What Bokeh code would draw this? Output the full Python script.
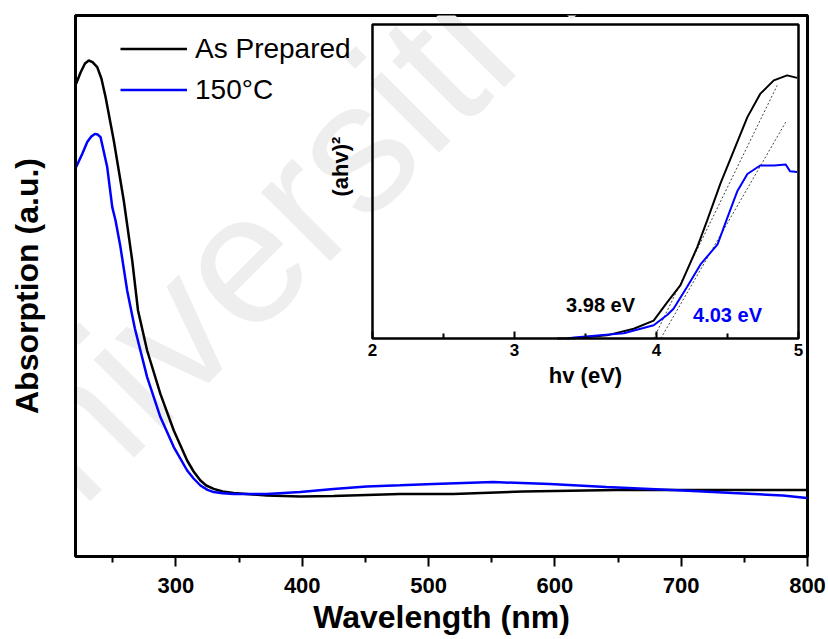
from bokeh.plotting import figure
from bokeh.models import (Range1d, LinearAxis, FixedTicker, Legend, LegendItem,
                          Label, BoxAnnotation)
from bokeh.embed import file_html
from bokeh.resources import INLINE

# ---------------- data ----------------
# main UV-Vis spectra
wl_asprep = [221, 224.5, 228, 231, 234, 237.7, 241, 244.3, 250.8, 258.7, 265.4, 270,
             277.2, 287.7, 298.3, 308.9, 314, 319.4, 324, 329.9, 337, 345.7, 372, 398.4,
             424.7, 477.5, 519.6, 574.9, 648.7, 701.4, 799.5]
abs_asprep = [2.364, 2.42, 2.465, 2.48, 2.472, 2.447, 2.39, 2.297, 2.08, 1.78, 1.48, 1.23,
              1.03, 0.813, 0.63, 0.48, 0.425, 0.38, 0.355, 0.338, 0.325, 0.318, 0.305,
              0.300, 0.302, 0.312, 0.313, 0.325, 0.333, 0.333, 0.333]

wl_150 = [221, 225.8, 229.8, 233, 235.8, 238, 240.3, 245.6, 249.6, 252.2, 256.1, 261.4,
          267.5, 277.2, 287.7, 298.3, 308.9, 314, 319.4, 325, 329.9, 337, 345.7, 372,
          398.4, 424.7, 451, 477.5, 503.8, 551.2, 596, 640.8, 701.4, 740.9, 780.5, 799.5]
abs_150 = [1.947, 2.013, 2.072, 2.10, 2.113, 2.11, 2.097, 1.947, 1.747, 1.68, 1.547, 1.33,
           1.14, 0.897, 0.697, 0.547, 0.43, 0.39, 0.355, 0.333, 0.322, 0.316, 0.313, 0.313,
           0.323, 0.338, 0.350, 0.356, 0.363, 0.372, 0.363, 0.347, 0.330, 0.317, 0.305,
           0.293]

# inset Tauc plot
hv_asprep = [3.30, 3.42, 3.65, 3.84, 3.98, 4.075, 4.169, 4.287, 4.357, 4.45, 4.545,
             4.64, 4.73, 4.826, 4.92, 4.99]
tauc_asprep = [0.0, 0.001, 0.010, 0.031, 0.057, 0.115, 0.170, 0.291, 0.376, 0.493, 0.599,
               0.705, 0.779, 0.822, 0.838, 0.830]

hv_150 = [3.37, 3.42, 3.77, 3.98, 4.075, 4.12, 4.216, 4.31, 4.43, 4.50, 4.57, 4.64, 4.73,
          4.83, 4.91, 4.94, 4.99]
tauc_150 = [0.0, 0.003, 0.017, 0.042, 0.075, 0.095, 0.165, 0.236, 0.300, 0.386, 0.470,
            0.524, 0.551, 0.551, 0.554, 0.533, 0.530]

fit_asprep_x = [3.98, 4.85]
fit_asprep_y = [0.0, 0.806]
fit_150_x = [4.03, 4.91]
fit_150_y = [0.0, 0.689]

main_ticks = [300, 400, 500, 600, 700, 800]
main_minor = [250, 350, 450, 550, 650, 750]
inset_ticks = [2, 3, 4, 5]
inset_minor = [2.5, 3.5, 4.5]
inset_xlim = (2, 5)
inset_ylim = (0, 1)

x_title = "Wavelength (nm)"
y_title = "Absorption (a.u.)"
series_labels = ["As Prepared", "150°C"]
gap_labels = ["3.98 eV", "4.03 eV"]

FONT = "Liberation Sans"
BLUE = "#0000ff"

# ---------------- figure ----------------
p = figure(width=828, height=639, x_range=Range1d(220.5, 800), y_range=Range1d(0, 2.705),
           output_backend="svg", toolbar_location=None, title=None,
           min_border_left=75, min_border_right=21, min_border_top=15, min_border_bottom=83)
p.extra_x_ranges = {"ix": Range1d(-0.0915, 5.0634)}
p.extra_y_ranges = {"iy": Range1d(-0.6943, 1.0287)}
p.grid.visible = False
p.outline_line_color = "black"
p.outline_line_width = 3
p.outline_line_alpha = 1.0
p.background_fill_color = "white"
p.border_fill_color = "white"

# watermark
p.add_layout(Label(x=-134, y=-3, x_units="screen", y_units="screen",
                   text="Universiti Malaya", angle=45, angle_units="deg",
                   text_font=FONT, text_font_size="185px", text_color="#eeeeee",
                   text_baseline="alphabetic", level="underlay"))

xa = p.xaxis[0]
xa.ticker = FixedTicker(ticks=main_ticks, minor_ticks=main_minor)
xa.bounds = (235, 800)
xa.axis_line_width = 3
xa.major_tick_line_width = 2
xa.minor_tick_line_width = 2
xa.major_tick_out = 10
xa.major_tick_in = 0
xa.minor_tick_out = 6
xa.minor_tick_in = 0
xa.major_label_standoff = 11
xa.major_label_text_font = FONT
xa.major_label_text_font_style = "bold"
xa.major_label_text_font_size = "22px"
xa.major_label_text_color = "black"
xa.axis_label = x_title
xa.axis_label_text_font = FONT
xa.axis_label_text_font_style = "bold"
xa.axis_label_text_font_size = "32px"
xa.axis_label_text_color = "black"
xa.axis_label_standoff = 3

ya = p.yaxis[0]
ya.ticker = FixedTicker(ticks=[])
ya.bounds = (0.055, 2.705)
ya.axis_line_width = 3
ya.major_tick_out = 0
ya.minor_tick_out = 0
ya.major_label_standoff = 0
ya.major_label_text_font_size = "0px"
ya.axis_label = y_title
ya.axis_label_text_font = FONT
ya.axis_label_text_font_style = "bold"
ya.axis_label_text_font_size = "32px"
ya.axis_label_text_color = "black"
ya.axis_label_standoff = 31

# main spectra
r1 = p.line(wl_asprep, abs_asprep, line_color="black", line_width=2.5)
r2 = p.line(wl_150, abs_150, line_color=BLUE, line_width=2.5)

legend = Legend(items=[LegendItem(label=series_labels[0], renderers=[r1]),
                       LegendItem(label=series_labels[1], renderers=[r2])],
                location=(45, 446), glyph_width=67, glyph_height=41, label_height=41,
                spacing=0, padding=0, margin=0, label_standoff=8,
                border_line_color=None, background_fill_alpha=0,
                label_text_font=FONT, label_text_font_size="28px",
                label_text_color="black")
p.add_layout(legend, "center")

# ---------------- inset ----------------
p.add_layout(BoxAnnotation(left=inset_xlim[0], right=inset_xlim[1],
                           bottom=inset_ylim[0], top=inset_ylim[1],
                           x_range_name="ix", y_range_name="iy",
                           fill_alpha=0, line_color="black", line_width=2.5,
                           line_alpha=1.0))

ix_axis = LinearAxis(x_range_name="ix", y_range_name="iy", fixed_location=inset_ylim[0],
                     bounds=inset_xlim,
                     ticker=FixedTicker(ticks=inset_ticks, minor_ticks=inset_minor),
                     axis_line_color=None,
                     major_tick_in=7, major_tick_out=0, minor_tick_in=5, minor_tick_out=0,
                     major_tick_line_width=2, minor_tick_line_width=2,
                     major_label_standoff=6, major_label_text_font=FONT,
                     major_label_text_font_style="bold", major_label_text_font_size="17px",
                     major_label_text_color="black",
                     axis_label="hv (eV)", axis_label_text_font=FONT,
                     axis_label_text_font_style="bold", axis_label_text_font_size="22px",
                     axis_label_text_color="black", axis_label_standoff=3)
p.add_layout(ix_axis, "below")

iy_axis = LinearAxis(x_range_name="ix", y_range_name="iy", fixed_location=inset_xlim[0],
                     bounds=(0.096, 1.0), ticker=FixedTicker(ticks=[]),
                     axis_line_color=None, major_tick_out=0, minor_tick_out=0,
                     major_label_standoff=0, major_label_text_font_size="0px",
                     axis_label="(ahv)²", axis_label_text_font=FONT,
                     axis_label_text_font_style="bold", axis_label_text_font_size="22px",
                     axis_label_text_color="black", axis_label_standoff=20)
p.add_layout(iy_axis, "left")

p.line(fit_asprep_x, fit_asprep_y, x_range_name="ix", y_range_name="iy",
       line_color="#444444", line_width=1, line_dash="2 2")
p.line(fit_150_x, fit_150_y, x_range_name="ix", y_range_name="iy",
       line_color="#444444", line_width=1, line_dash="2 2")
p.line(hv_asprep, tauc_asprep, x_range_name="ix", y_range_name="iy",
       line_color="black", line_width=2)
p.line(hv_150, tauc_150, x_range_name="ix", y_range_name="iy",
       line_color=BLUE, line_width=2)

p.add_layout(Label(x=3.606, y=0.108, x_range_name="ix", y_range_name="iy",
                   text=gap_labels[0], text_align="center", text_baseline="middle",
                   text_font=FONT, text_font_style="bold", text_font_size="20px",
                   text_color="black"))
p.add_layout(Label(x=4.5, y=0.075, x_range_name="ix", y_range_name="iy",
                   text=gap_labels[1], text_align="center", text_baseline="middle",
                   text_font=FONT, text_font_style="bold", text_font_size="20px",
                   text_color=BLUE))

open("out.html", "w").write(file_html(p, INLINE))
